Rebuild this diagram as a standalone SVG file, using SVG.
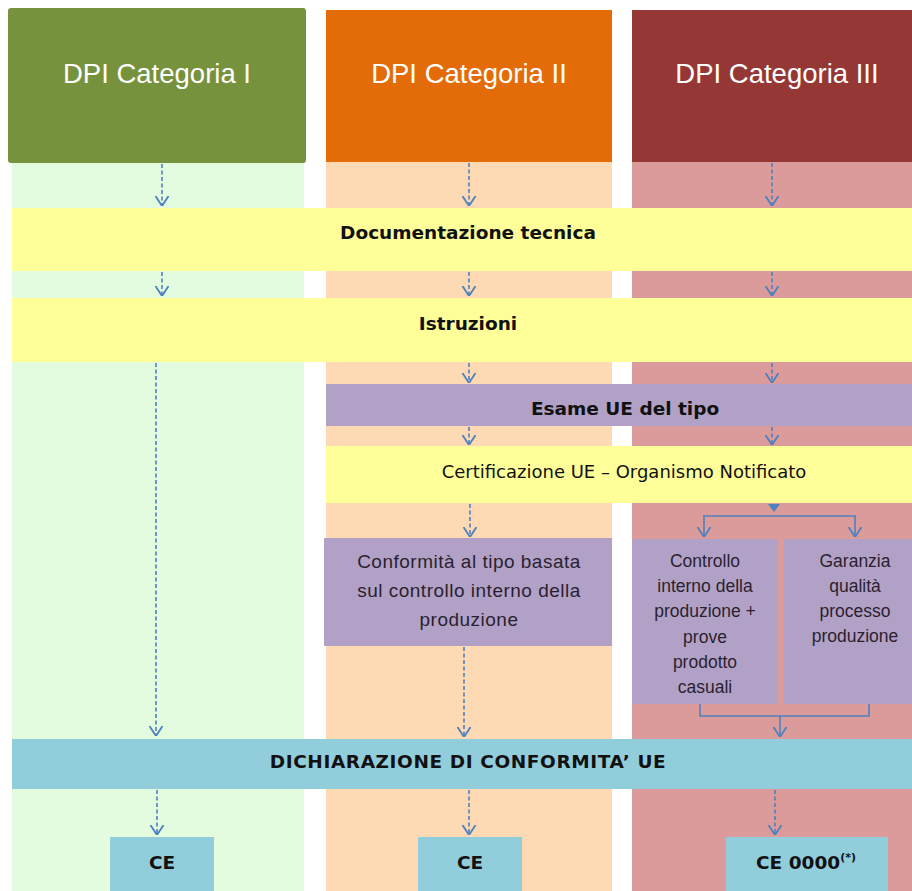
<svg xmlns="http://www.w3.org/2000/svg" width="912" height="891" viewBox="0 0 912 891">
<style>
.hdr{font-family:"Liberation Sans",Arial,sans-serif;font-size:27.5px;fill:#ffffff;text-anchor:middle}
.b{font-family:"DejaVu Sans",Verdana,sans-serif;font-weight:bold;font-size:18.5px;fill:#111;text-anchor:middle}
.r{font-family:"DejaVu Sans",Verdana,sans-serif;font-size:18px;fill:#111;text-anchor:middle}
.c{font-family:"Liberation Sans",Arial,sans-serif;font-size:19px;letter-spacing:0.5px;fill:#2a1f2f;text-anchor:middle}
.cs{font-family:"Liberation Sans",Arial,sans-serif;font-size:17.5px;fill:#2a1f2f;text-anchor:middle}
.d{fill:none;stroke:#4F81BD;stroke-width:1.6;stroke-dasharray:4 2.5}
.s{fill:none;stroke:#4F81BD;stroke-width:1.6}
.yel{fill:#FFFF99}
.pur{fill:#B2A1C7}
.blu{fill:#92CDDC}
</style>
<defs>
<marker id="ah" viewBox="0 0 10 14" refX="10" refY="7" markerWidth="10" markerHeight="14" markerUnits="userSpaceOnUse" orient="auto">
<path d="M0,0.5 L10,7 L0,13.5" fill="none" stroke="#4F81BD" stroke-width="1.8"/>
</marker>
</defs>
<rect width="912" height="891" fill="#ffffff"/>
<g id="columns">
<rect x="12" y="160" width="292" height="731" fill="#E3FCE0"/>
<rect x="326" y="160" width="286" height="731" fill="#FDD9B4"/>
<rect x="632" y="160" width="280" height="731" fill="#DC9B9B"/>
</g>
<g id="hdr1"><rect x="8" y="8" width="298" height="155" rx="3" fill="#76923C"/><text class="hdr" x="157" y="83">DPI Categoria I</text></g>
<g id="hdr2"><rect x="326" y="10" width="286" height="152" fill="#E36C09"/><text class="hdr" x="469" y="83">DPI Categoria II</text></g>
<g id="hdr3"><rect x="632" y="10" width="280" height="152" fill="#953735"/><text class="hdr" x="777" y="83">DPI Categoria III</text></g>
<g id="doc"><rect class="yel" x="12" y="208" width="900" height="63"/><text class="b" x="468" y="239">Documentazione tecnica</text></g>
<g id="istr"><rect class="yel" x="12" y="298" width="900" height="64"/><text class="b" x="468" y="330">Istruzioni</text></g>
<g id="esame"><rect class="pur" x="326" y="384" width="586" height="42"/><text class="b" x="625" y="415">Esame UE del tipo</text></g>
<g id="cert"><rect class="yel" x="326" y="446" width="586" height="57"/><text class="r" x="624" y="478">Certificazione UE – Organismo Notificato</text></g>
<g id="conf"><rect class="pur" x="324" y="538" width="288" height="108"/>
<text class="c" x="469" y="568">Conformità al tipo basata</text>
<text class="c" x="469" y="597">sul controllo interno della</text>
<text class="c" x="469" y="626">produzione</text></g>
<g id="controllo"><rect class="pur" x="632" y="539" width="146" height="165"/>
<text class="cs" x="705" y="567">Controllo</text>
<text class="cs" x="705" y="592">interno della</text>
<text class="cs" x="705" y="617">produzione +</text>
<text class="cs" x="705" y="643">prove</text>
<text class="cs" x="705" y="668">prodotto</text>
<text class="cs" x="705" y="693">casuali</text></g>
<g id="garanzia"><rect class="pur" x="784" y="539" width="128" height="165"/>
<text class="cs" x="855" y="567">Garanzia</text>
<text class="cs" x="855" y="592">qualità</text>
<text class="cs" x="855" y="617">processo</text>
<text class="cs" x="855" y="642">produzione</text></g>
<g id="dich"><rect class="blu" x="12" y="739" width="900" height="50"/><text class="b" x="468" y="768" letter-spacing="0.6">DICHIARAZIONE DI CONFORMITA’ UE</text></g>
<g id="ce1"><rect class="blu" x="110" y="837" width="104" height="54"/><text class="b" x="162" y="869">CE</text></g>
<g id="ce2"><rect class="blu" x="418" y="837" width="104" height="54"/><text class="b" x="470" y="869">CE</text></g>
<g id="ce3"><rect class="blu" x="726" y="837" width="162" height="54"/><text class="b" x="806" y="869">CE 0000<tspan font-size="11" dy="-8">(*)</tspan></text></g>
<g id="connectors">
<path class="d" d="M162,164 V206" marker-end="url(#ah)"/>
<path class="d" d="M469,163 V206" marker-end="url(#ah)"/>
<path class="d" d="M772,163 V206" marker-end="url(#ah)"/>
<path class="d" d="M162,272 V296" marker-end="url(#ah)"/>
<path class="d" d="M469,272 V296" marker-end="url(#ah)"/>
<path class="d" d="M772,272 V296" marker-end="url(#ah)"/>
<path class="d" d="M156,363 V736" marker-end="url(#ah)"/>
<path class="d" d="M469,363 V383" marker-end="url(#ah)"/>
<path class="d" d="M772,363 V383" marker-end="url(#ah)"/>
<path class="d" d="M469,427 V445" marker-end="url(#ah)"/>
<path class="d" d="M772,427 V445" marker-end="url(#ah)"/>
<path class="d" d="M470,504 V537" marker-end="url(#ah)"/>
<path class="d" d="M464,647 V737" marker-end="url(#ah)"/>
<polygon points="768,504 780,504 774,512" fill="#4F81BD"/>
<path class="s" d="M703,516 H856"/>
<path class="s" d="M704,516 V537" marker-end="url(#ah)"/>
<path class="s" d="M855,516 V537" marker-end="url(#ah)"/>
<path class="s" d="M700,704 V716 H869 V704"/>
<path class="s" d="M780,716 V737" marker-end="url(#ah)"/>
<path class="d" d="M157,790 V835" marker-end="url(#ah)"/>
<path class="d" d="M469,790 V835" marker-end="url(#ah)"/>
<path class="d" d="M775,790 V835" marker-end="url(#ah)"/>
</g>
</svg>
